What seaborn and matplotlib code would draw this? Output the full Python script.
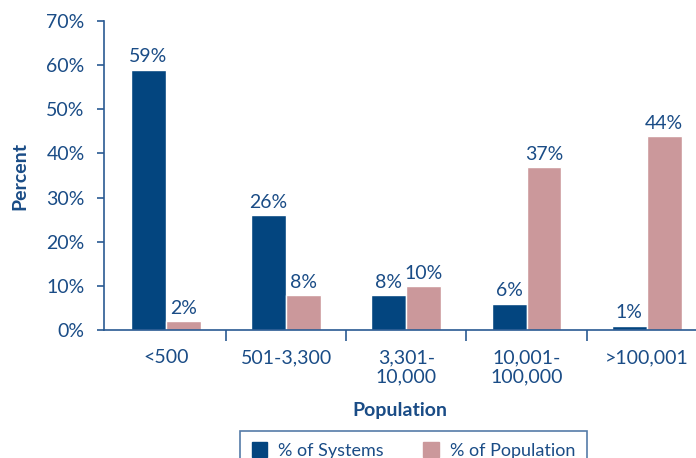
import matplotlib
matplotlib.use("Agg")
import matplotlib.pyplot as plt
import seaborn as sns
import pandas as pd
from matplotlib.ticker import FixedLocator, PercentFormatter

# Share of water systems and of population served, by system size
categories = ["<500", "501-3,300", "3,301-\n10,000", "10,001-\n100,000", ">100,001"]
pct_systems = [59, 26, 8, 6, 1]
pct_population = [2, 8, 10, 37, 44]
series_names = ["% of Systems", "% of Population"]

df = pd.DataFrame({
    "Population": categories * 2,
    "Percent": pct_systems + pct_population,
    "Series": [series_names[0]] * len(categories) + [series_names[1]] * len(categories),
})

BLUE = "#03457f"
PINK = "#cb989b"
TEXT = "#1a4c86"
AXIS = "#2a5a92"
FS = 14

sns.set_theme(style="white")
plt.rcParams["font.family"] = ["Lato", "DejaVu Sans"]
plt.rcParams["text.color"] = TEXT

fig = plt.figure(figsize=(6.96, 4.58), dpi=100)
ax = fig.add_axes([104 / 696, 128 / 458, 1 - 104 / 696, (330 - 21) / 458])

sns.barplot(data=df, x="Population", y="Percent", hue="Series",
            palette=[BLUE, PINK], width=0.58, saturation=1,
            order=categories, hue_order=series_names, ax=ax, legend=False)

for container in ax.containers:
    ax.bar_label(container, fmt="%g%%", padding=3, fontsize=FS, color=TEXT)

ax.set_ylim(0, 70)
ax.set_xlim(-0.515, 4.41)
ax.set_yticks(range(0, 71, 10))
ax.yaxis.set_major_formatter(PercentFormatter(decimals=0))

# Category labels sit at group centres; tick marks sit between groups
ax.set_xticks(range(len(categories)))
ax.set_xticklabels(categories, fontsize=FS, color=TEXT, linespacing=1.15)
ax.tick_params(axis="x", length=0, pad=14)
ax.xaxis.set_minor_locator(FixedLocator([i + 0.5 for i in range(len(categories) - 1)]))
ax.tick_params(axis="x", which="minor", bottom=True, direction="out", length=8, width=1.2, color=AXIS)
ax.tick_params(axis="y", left=True, direction="out", length=5, width=1.2, color=AXIS,
               labelsize=FS, labelcolor=TEXT, pad=9)

for side in ("top", "right"):
    ax.spines[side].set_visible(False)
for side in ("left", "bottom"):
    ax.spines[side].set_color(AXIS)
    ax.spines[side].set_linewidth(1.2)

ax.set_xlabel("Population", fontsize=FS, fontweight="bold", color=TEXT, labelpad=12)
ax.set_ylabel("Percent", fontsize=FS, fontweight="bold", color=TEXT)
ax.yaxis.set_label_coords(-0.128, 0.5)

handles = [plt.Rectangle((0, 0), 1, 1, color=c) for c in (BLUE, PINK)]
leg = fig.legend(handles, series_names, loc="upper center", bbox_to_anchor=(0.594, 0.06),
                 ncol=2, frameon=True, fancybox=False, fontsize=13,
                 handlelength=0.85, handleheight=0.85, handletextpad=0.6,
                 columnspacing=2.2, borderpad=0.65, borderaxespad=0)
leg.get_frame().set_edgecolor(AXIS)
leg.get_frame().set_linewidth(1.2)
for t in leg.get_texts():
    t.set_color(TEXT)

fig.savefig("out.png", dpi=100)
